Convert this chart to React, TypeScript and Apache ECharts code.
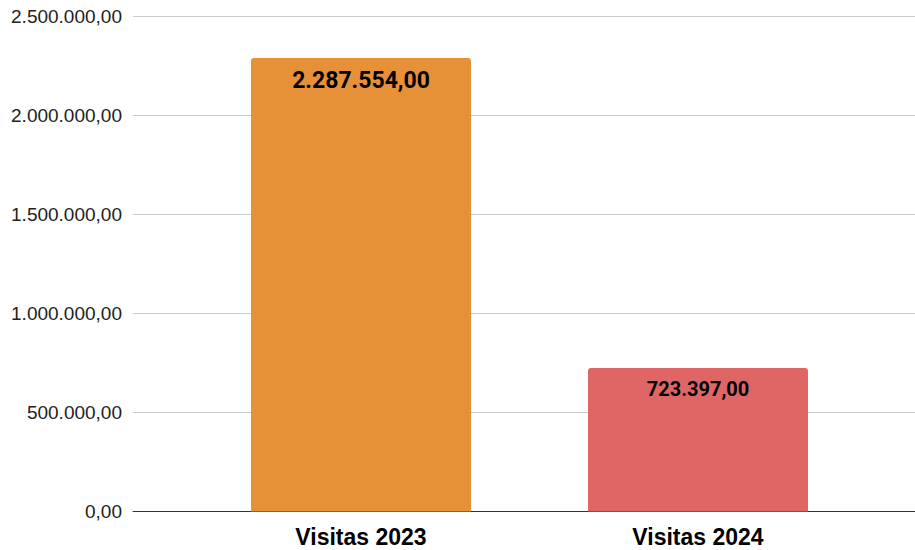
import React, { useEffect, useRef } from "react";
import * as echarts from "echarts";

const categories = ["Visitas 2023", "Visitas 2024"];
const visitValues = [2287554, 723397];
const barColors = ["#E69138", "#E06666"];
const labelSizes = [23, 20];
const yTicks = { min: 0, max: 2500000, interval: 500000 };

function fmt(v: number): string {
  const [i, d] = (Math.round(v * 100) / 100).toFixed(2).split(".");
  return i.replace(/\B(?=(\d{3})+(?!\d))/g, ".") + "," + d;
}

export default function App() {
  const ref = useRef<HTMLDivElement>(null);
  useEffect(() => {
    if (!ref.current) return;
    const chart = echarts.init(ref.current, undefined, { renderer: "svg" });
    const gridTop = 16;
    const gridBottom = 38.5;
    chart.setOption({
      animation: false,
      backgroundColor: "#ffffff",
      grid: [
        { left: 133, right: 0, top: gridTop, bottom: gridBottom },
        { left: 192.5, right: 48.5, top: gridTop, bottom: gridBottom },
      ],
      xAxis: [
        {
          gridIndex: 0,
          type: "category",
          data: categories.map(() => ""),
          axisLine: { show: true, lineStyle: { color: "#333333", width: 1 } },
          axisTick: { show: false },
          axisLabel: { show: false },
          splitLine: { show: false },
        },
        {
          gridIndex: 1,
          type: "category",
          data: categories,
          axisLine: { show: false },
          axisTick: { show: false },
          axisLabel: {
            show: true,
            margin: 14,
            fontFamily: "Liberation Sans, Arial, sans-serif",
            fontWeight: "bold",
            fontSize: 23,
            lineHeight: 23,
            color: "#000000",
          },
          splitLine: { show: false },
        },
      ],
      yAxis: [
        {
          gridIndex: 0,
          type: "value",
          min: yTicks.min,
          max: yTicks.max,
          interval: yTicks.interval,
          axisLine: { show: false },
          axisTick: { show: false },
          axisLabel: {
            margin: 11,
            fontFamily: "Liberation Sans, Arial, sans-serif",
            fontSize: 19,
            color: "#222222",
            formatter: (v: number) => fmt(v),
          },
          splitLine: { show: true, lineStyle: { color: "#cccccc", width: 1 } },
        },
        {
          gridIndex: 1,
          type: "value",
          min: yTicks.min,
          max: yTicks.max,
          interval: yTicks.interval,
          show: false,
          splitLine: { show: false },
        },
      ],
      series: [
        {
          type: "bar",
          xAxisIndex: 1,
          yAxisIndex: 1,
          barWidth: 220,
          data: visitValues.map((v, i) => ({
            value: v,
            itemStyle: { color: barColors[i], borderRadius: [3, 3, 0, 0] },
            label: {
              show: true,
              position: "insideTop",
              distance: 11,
              fontFamily: "Roboto, Arial, sans-serif",
              fontWeight: "bold",
              fontSize: labelSizes[i],
              color: "#000000",
              formatter: (p: any) => fmt(p.value),
            },
          })),
        },
      ],
    });
    return () => chart.dispose();
  }, []);
  return (
    <div
      ref={ref}
      style={{ position: "fixed", left: 0, top: 0, width: 915, height: 550 }}
    />
  );
}
